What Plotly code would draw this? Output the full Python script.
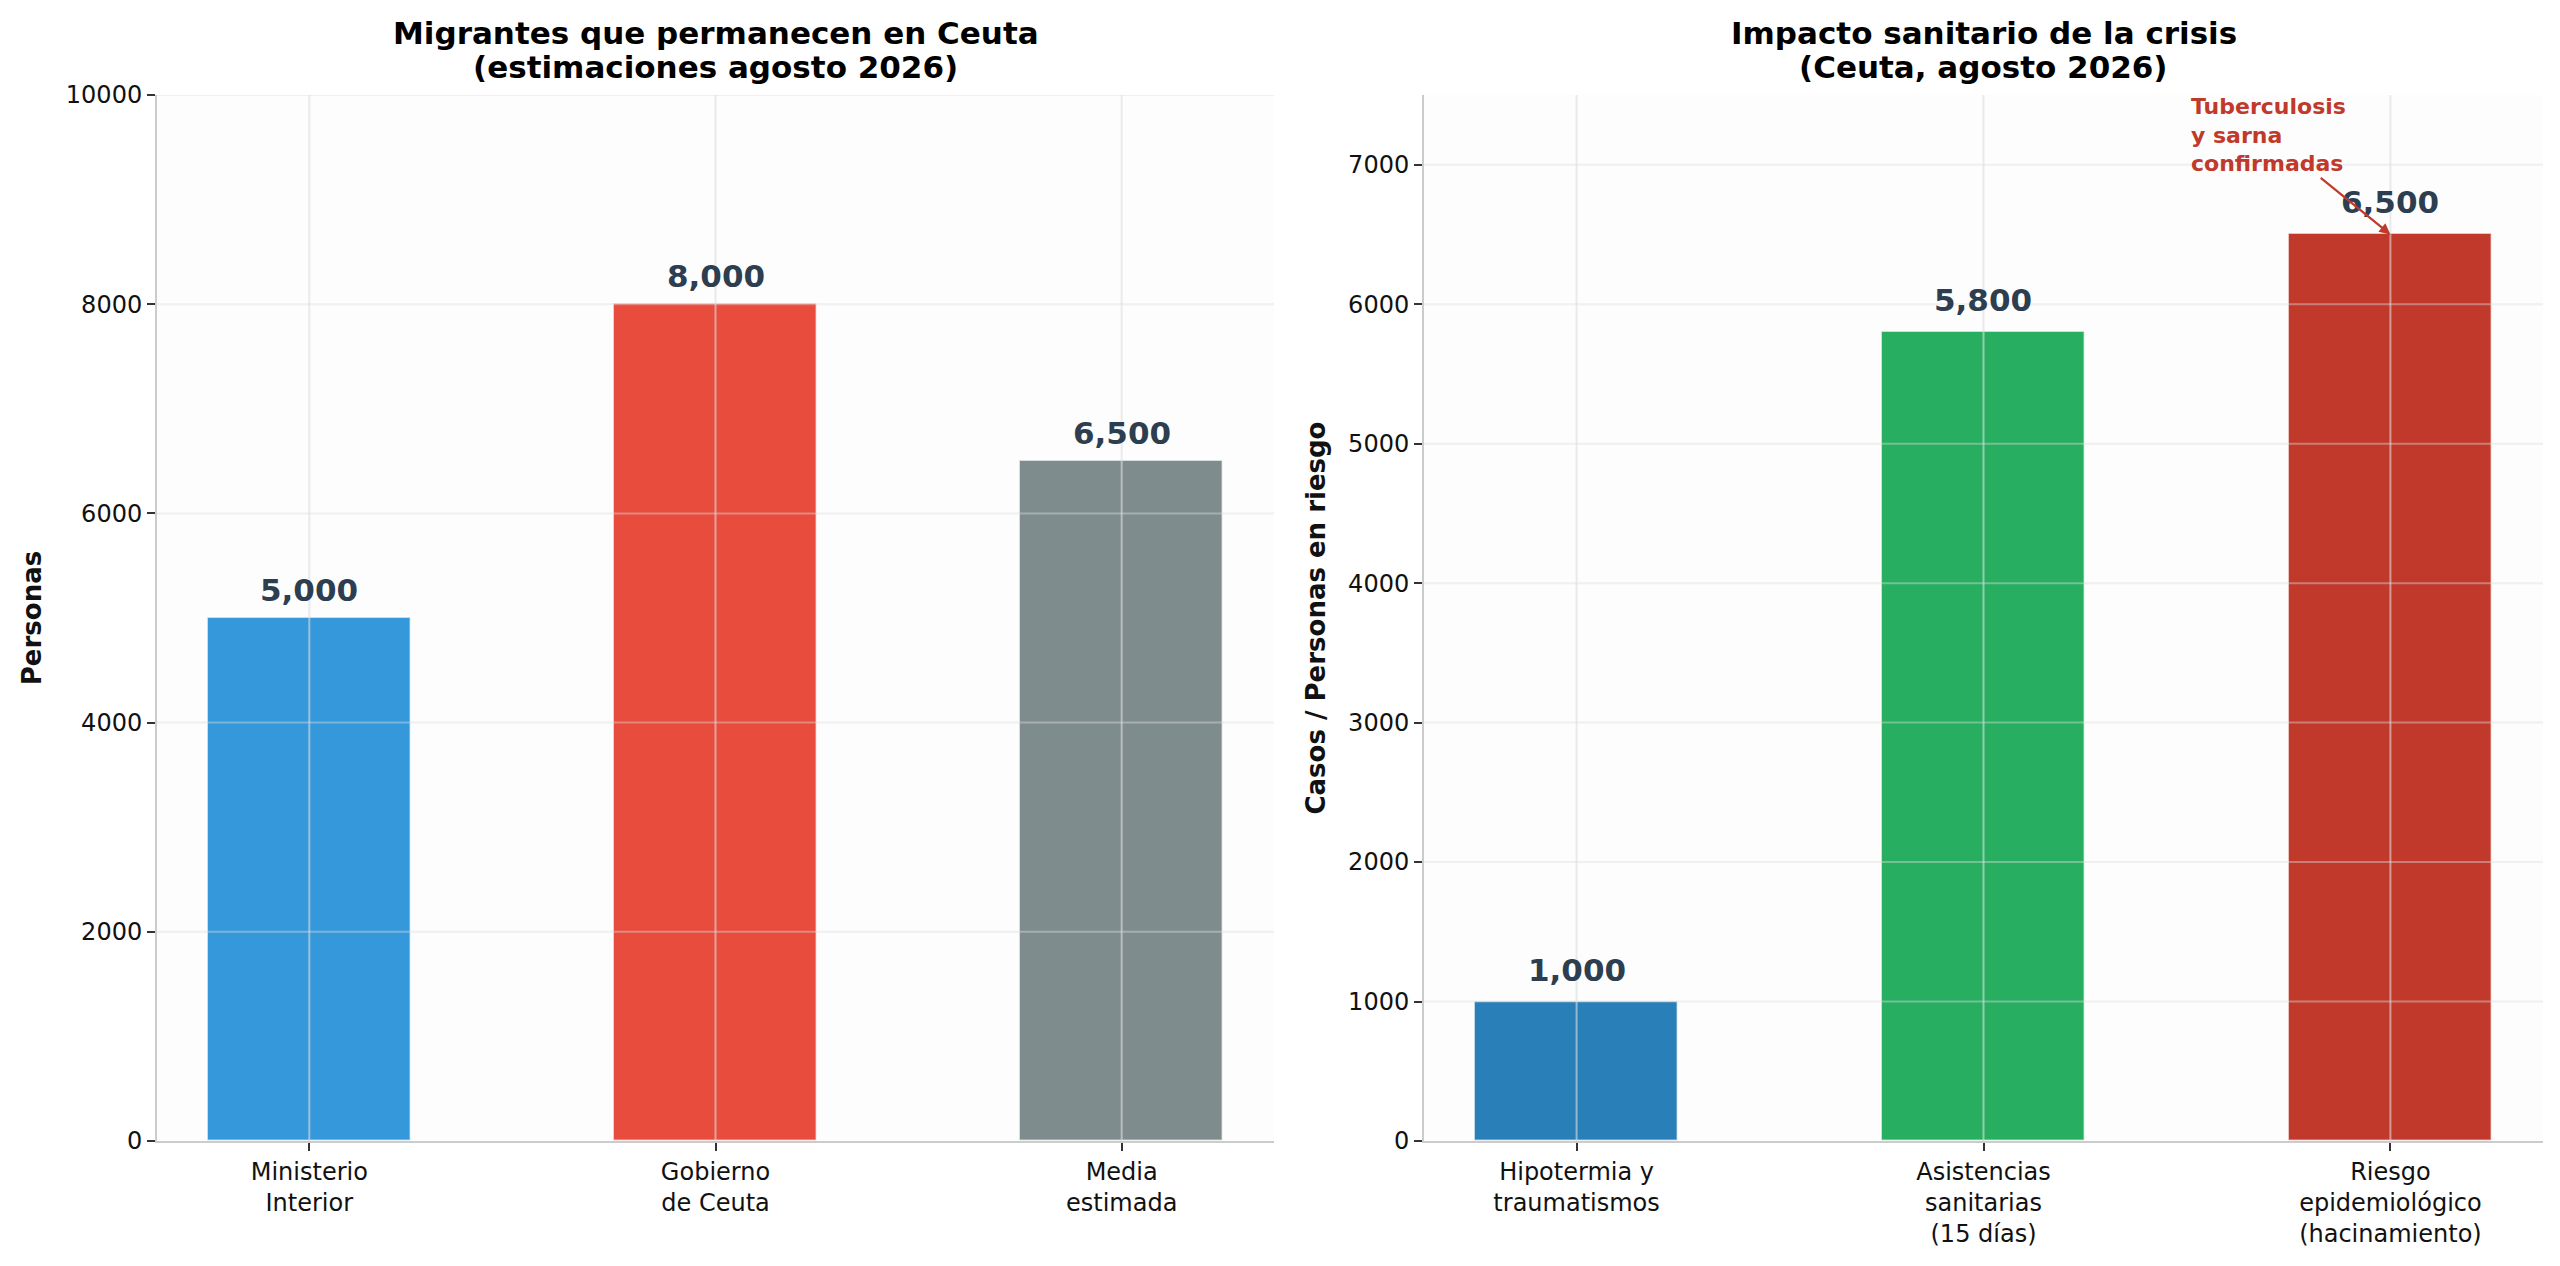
import plotly.graph_objects as go

# ---- data ----
left_categories = ["Ministerio<br>Interior", "Gobierno<br>de Ceuta", "Media<br>estimada"]
left_values = [5000, 8000, 6500]
left_colors = ["#3498db", "#e74c3c", "#7f8c8d"]
left_yticks = [0, 2000, 4000, 6000, 8000, 10000]

right_categories = ["Hipotermia y<br>traumatismos", "Asistencias<br>sanitarias<br>(15 días)",
                    "Riesgo<br>epidemiológico<br>(hacinamiento)"]
right_values = [1000, 5800, 6500]
right_colors = ["#2980b9", "#27ae60", "#c0392b"]
right_yticks = [0, 1000, 2000, 3000, 4000, 5000, 6000, 7000]

left_title = ["Migrantes que permanecen en Ceuta", "(estimaciones agosto 2026)"]
right_title = ["Impacto sanitario de la crisis", "(Ceuta, agosto 2026)"]
note_text = "Tuberculosis<br>y sarna<br>confirmadas"

W, H = 2560, 1266
FONT = "DejaVu Sans"
TEXT_DARK = "#2c3e50"
GRID_H = "rgba(222,222,222,0.42)"
GRID_V = "rgba(222,222,222,0.6)"
SPINE = "#cccccc"

# plot area in pixels (measured on the reference); the page body adds an 8px offset
OFF = 8
ML, MR, MT, MB = 157 - OFF, 17 + OFF, 95 - OFF, 125 + OFF
plot_w = W - ML - MR
xdom1 = [0, (1274 - 157) / plot_w]
xdom2 = [(1424 - 157) / plot_w, 1]

fig = go.Figure()

fig.add_trace(go.Bar(
    x=left_categories, y=left_values, width=0.5,
    marker=dict(color=left_colors, line=dict(color="rgba(255,255,255,0.6)", width=1.5)),
    xaxis="x", yaxis="y", showlegend=False, hoverinfo="x+y",
))
fig.add_trace(go.Bar(
    x=right_categories, y=right_values, width=0.5,
    marker=dict(color=right_colors, line=dict(color="rgba(255,255,255,0.6)", width=1.5)),
    xaxis="x2", yaxis="y2", showlegend=False, hoverinfo="x+y",
))

axis_common = dict(
    showline=True, linecolor=SPINE, linewidth=2,
    ticks="outside", ticklen=8, tickwidth=1.5, tickcolor="#333333",
    tickfont=dict(family=FONT, size=24, color="#111111"),
    showgrid=False, zeroline=False, automargin=False,
)

fig.update_layout(
    width=W, height=H,
    margin=dict(l=ML, r=MR, t=MT, b=MB, autoexpand=False),
    paper_bgcolor="white", plot_bgcolor="#fdfdfd",
    font=dict(family=FONT),
    bargap=0,
    xaxis=dict(domain=xdom1, anchor="y", type="category", range=[-0.375, 2.375], **axis_common),
    yaxis=dict(domain=[0, 1], anchor="x", range=[0, 10000], tickvals=left_yticks,
               tickformat="d",
               title=dict(text="<b>Personas</b>", standoff=17,
                          font=dict(family=FONT, size=26, color="#111111")),
               **axis_common),
    xaxis2=dict(domain=xdom2, anchor="y2", type="category", range=[-0.375, 2.375], **axis_common),
    yaxis2=dict(domain=[0, 1], anchor="x2", range=[0, 7500], tickvals=right_yticks,
                tickformat="d",
                title=dict(text="<b>Casos / Personas en riesgo</b>", standoff=15,
                           font=dict(family=FONT, size=26, color="#111111")),
                **axis_common),
)

# grid lines drawn above bars (as in the reference)
shapes = []
for xa, ya, cats, ticks in [("x", "y", left_categories, left_yticks),
                            ("x2", "y2", right_categories, right_yticks)]:
    for t in ticks[1:]:
        shapes.append(dict(type="line", xref=f"{xa} domain", yref=ya, x0=0, x1=1, y0=t, y1=t,
                           line=dict(color=GRID_H, width=2), layer="above"))
    for c in cats:
        shapes.append(dict(type="line", xref=xa, yref=f"{ya} domain", x0=c, x1=c, y0=0, y1=1,
                           line=dict(color=GRID_V, width=2), layer="above"))
fig.update_layout(shapes=shapes)

annotations = []
# value labels
for xa, ya, cats, vals, shift in [("x", "y", left_categories, left_values, 8),
                                  ("x2", "y2", right_categories, right_values, 12)]:
    for c, v in zip(cats, vals):
        annotations.append(dict(
            x=c, y=v, xref=xa, yref=ya, text=f"<b>{v:,}</b>", showarrow=False,
            yanchor="bottom", yshift=shift,
            font=dict(family=FONT, size=31, color=TEXT_DARK),
        ))

# subplot titles (two lines each)
for dom, lines in [(xdom1, left_title), (xdom2, right_title)]:
    for line, ys in zip(lines, [42, 8]):
        annotations.append(dict(
            x=(dom[0] + dom[1]) / 2, y=1, xref="paper", yref="paper",
            xanchor="center", yanchor="bottom", yshift=ys,
            text=f"<b>{line}</b>", showarrow=False,
            font=dict(family=FONT, size=31, color="#000000"),
        ))

# note with arrow on the last bar of the right panel
annotations.append(dict(
    x=right_categories[2], y=right_values[2], xref="x2", yref="y2",
    ax=1.70, ay=7210, axref="x2", ayref="y2",
    text=f"<b>{note_text}</b>", align="left", showarrow=True,
    arrowhead=2, arrowsize=1, arrowwidth=2.2, arrowcolor="#c0392b",
    font=dict(family=FONT, size=22, color="#c0392b"),
))

fig.update_layout(annotations=annotations)

fig.write_html("out.html")
